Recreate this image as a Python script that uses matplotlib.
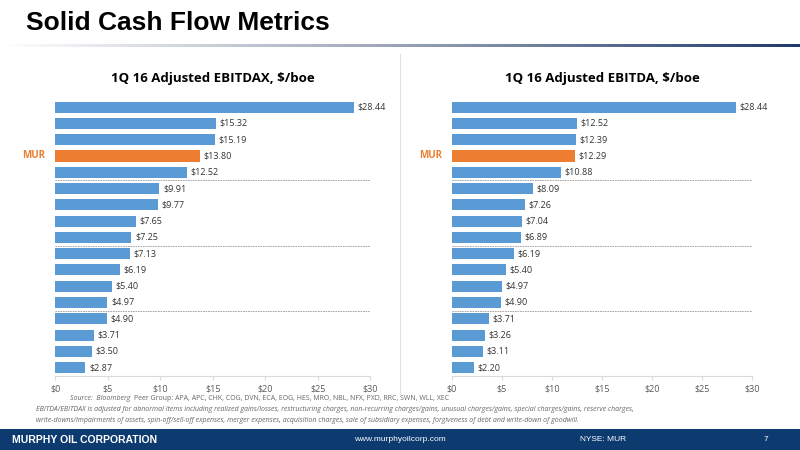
import matplotlib.pyplot as plt
import numpy as np
from matplotlib.lines import Line2D
from matplotlib.patches import Rectangle

left_vals = [28.44, 15.32, 15.19, 13.80, 12.52, 9.91, 9.77, 7.65, 7.25, 7.13, 6.19, 5.40, 4.97, 4.90, 3.71, 3.50, 2.87]
right_vals = [28.44, 12.52, 12.39, 12.29, 10.88, 8.09, 7.26, 7.04, 6.89, 6.19, 5.40, 4.97, 4.90, 3.71, 3.26, 3.11, 2.20]
mur_index = 3
ticks = [0, 5, 10, 15, 20, 25, 30]
tick_labels = ["$0", "$5", "$10", "$15", "$20", "$25", "$30"]

blue = "#5b9bd5"
orange = "#ed7d31"
font = "Open Sans"

fig = plt.figure(figsize=(8, 4.5), dpi=100)
fig.patch.set_facecolor("white")

fig.text(0.033, 0.948, "Solid Cash Flow Metrics", fontsize=19, fontweight="bold",
         family="Liberation Sans", va="center")
# gradient rule under title
grad = fig.add_axes([0, 0.895, 1, 0.008])
grad.imshow(np.linspace(0, 1, 256).reshape(1, -1), aspect="auto",
            cmap=plt.matplotlib.colors.LinearSegmentedColormap.from_list("g", ["#ffffff", "#9aa3b5", "#1f3b6e"]))
grad.axis("off")

# footer
foot = fig.add_axes([0, 0, 1, 0.046])
foot.add_patch(Rectangle((0, 0), 1, 1, color="#0d3b70"))
foot.axis("off")
foot.set_xlim(0, 1); foot.set_ylim(0, 1)
foot.text(0.015, 0.5, "MURPHY OIL CORPORATION", color="white", fontsize=7.5, fontweight="bold",
          family="Liberation Sans", va="center")
foot.text(0.5, 0.5, "www.murphyoilcorp.com", color="white", fontsize=6, va="center", ha="center",
          family="Liberation Sans")
foot.text(0.725, 0.5, "NYSE: MUR", color="white", fontsize=6, va="center", family="Liberation Sans")
foot.text(0.955, 0.5, "7", color="white", fontsize=6, va="center", family="Liberation Sans")

fig.text(0.088, 0.115, "Source:  Bloomberg", fontsize=5, style="italic", color="#666666", family=font, va="center")
fig.text(0.167, 0.115, "Peer Group: APA, APC, CHK, COG, DVN, ECA, EOG, HES, MRO, NBL, NFX, PXD, RRC, SWN, WLL, XEC",
         fontsize=5, color="#666666", family=font, va="center")
fig.text(0.045, 0.097, "EBITDA/EBITDAX is adjusted for abnormal items including realized gains/losses, restructuring charges, "
         "non-recurring charges/gains, unusual charges/gains, special charges/gains, reserve charges,\n"
         "write-downs/impairments of assets, spin-off/sell-off expenses, merger expenses, acquisition charges, "
         "sale of subsidiary expenses, forgiveness of debt and write-down of goodwill.",
         fontsize=5, style="italic", color="#666666", family=font, linespacing=1.7, va="top")

fig.add_artist(Line2D([0.5, 0.5], [0.125, 0.88], color="#e0e0e0", lw=0.8))

def panel(rect, vals, title):
    ax = fig.add_axes(rect)
    y = np.arange(len(vals))
    colors = [orange if i == mur_index else blue for i in range(len(vals))]
    ax.barh(y, vals, height=0.68, color=colors)
    ax.set_ylim(len(vals) - 0.5, -0.5)
    ax.set_xlim(0, 30)
    for i, v in enumerate(vals):
        ax.text(v + 0.35, i, f"${v:.2f}", va="center", fontsize=6.5, color="#333333", family=font)
    for b in [4.5, 8.5, 12.5]:
        ax.axhline(b, color="#999999", lw=0.6, ls=(0, (2, 1)))
    ax.text(-1, mur_index, "MUR", color=orange, fontsize=7, fontweight="bold",
            ha="right", va="center", family=font)
    ax.set_xticks(ticks)
    ax.set_xticklabels(tick_labels, fontsize=6.5, color="#595959", family=font)
    ax.set_yticks([])
    for s in ["top", "right", "left"]:
        ax.spines[s].set_visible(False)
    ax.spines["bottom"].set_color("#d9d9d9")
    ax.tick_params(axis="x", length=3, color="#d9d9d9", pad=3)
    ax.set_title(title, fontsize=9.5, fontweight="bold", family=font, pad=12)
    return ax

panel([0.069, 0.165, 0.394, 0.615], left_vals, "1Q 16 Adjusted EBITDAX, $/boe")
panel([0.565, 0.165, 0.375, 0.615], right_vals, "1Q 16 Adjusted EBITDA, $/boe")

fig.savefig("out.png", dpi=100)
